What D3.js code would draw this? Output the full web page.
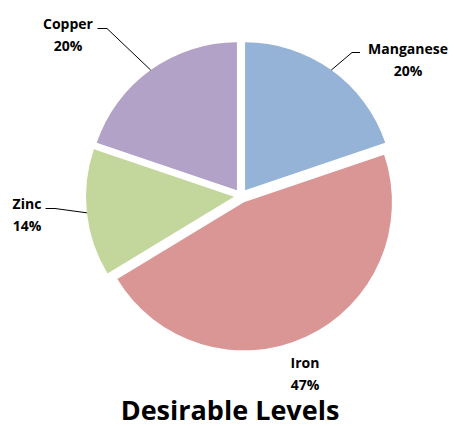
<!DOCTYPE html>
<html>
<head>
<meta charset="utf-8">
<script src="https://cdn.jsdelivr.net/npm/d3@7"></script>
<style>
  body { margin: 0; background: #fff; }
  text { font-family: "Open Sans", Lato, sans-serif; font-weight: bold; fill: #000; }
</style>
</head>
<body>
<svg id="chart" width="454" height="426"></svg>
<script>
// chart data
const minerals = ["Manganese", "Iron", "Zinc", "Copper"];
const levels = [20, 47, 14, 20];
const pctLabels = ["20%", "47%", "14%", "20%"];
const sliceColors = ["#95b3d7", "#d99694", "#c3d69b", "#b3a2c7"];
const title = "Desirable Levels";

// layout (label spots picked by hand, like the excel original)
const cx = 241, cy = 196, radius = 148, explode = 7;
const labelLayout = {
  Manganese: { x: 408, y: 54, elbow: [352, 52.5], end: 360 },
  Iron: { x: 305, y: 368 },
  Zinc: { x: 27, y: 209, elbow: [55, 208.5], end: 45.5 },
  Copper: { x: 68, y: 28.5, elbow: [107, 28.5], end: 97.5 },
};

const svg = d3.select("#chart");
const g = svg.append("g").attr("transform", `translate(${cx},${cy})`);

const pie = d3.pie().sort(null).startAngle(0).endAngle(2 * Math.PI);
const arc = d3.arc().innerRadius(0).outerRadius(radius);
const arcs = pie(levels);

// unit vector along the middle of a slice
const mid = (d) => (d.startAngle + d.endAngle) / 2;
const offset = (d, dist) => [Math.sin(mid(d)) * dist, -Math.cos(mid(d)) * dist];

g.selectAll("path")
  .data(arcs)
  .join("path")
  .attr("d", arc)
  .attr("fill", (d, i) => sliceColors[i])
  .attr("transform", (d) => `translate(${offset(d, explode)})`);

// leader lines from the slice edge to the labels
arcs.forEach((d, i) => {
  const lay = labelLayout[minerals[i]];
  if (!lay.elbow) return;
  const o = offset(d, explode);
  const edge = offset(d, radius);
  const pts = [
    [cx + o[0] + edge[0], cy + o[1] + edge[1]],
    lay.elbow,
    [lay.end, lay.elbow[1]],
  ];
  svg.append("path")
    .attr("d", d3.line()(pts))
    .attr("fill", "none")
    .attr("stroke", "#000")
    .attr("stroke-width", 1);
});

// two-line labels: name and percent
const labels = svg.selectAll("text.lbl")
  .data(minerals)
  .join("text")
  .attr("class", "lbl")
  .attr("text-anchor", "middle")
  .style("font-size", "14px")
  .attr("x", (d) => labelLayout[d].x)
  .attr("y", (d) => labelLayout[d].y);
labels.append("tspan").text((d) => d);
labels.append("tspan")
  .attr("x", (d) => labelLayout[d].x)
  .attr("dy", 22)
  .text((d, i) => pctLabels[i]);

svg.append("text")
  .attr("x", 230)
  .attr("y", 420)
  .attr("text-anchor", "middle")
  .style("font-size", "27px")
  .text(title);
</script>
</body>
</html>
